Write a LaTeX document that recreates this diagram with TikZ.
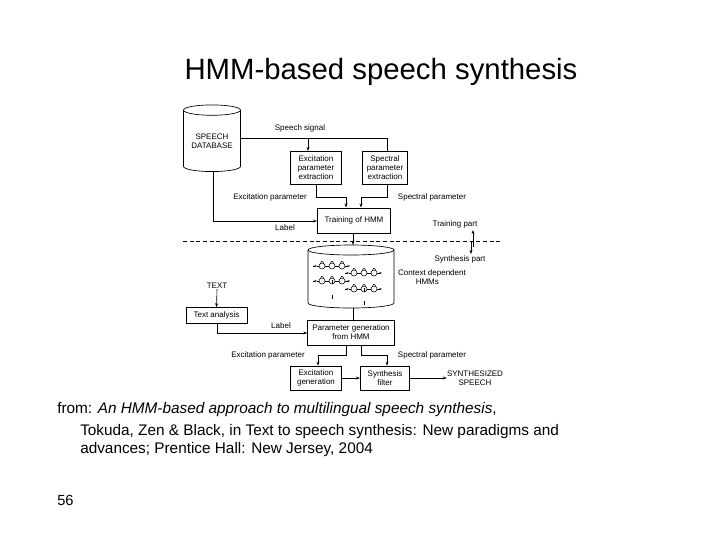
\documentclass[tikz,border=0pt]{standalone}
\usepackage{fontspec}
\setmainfont{Liberation Sans}
\usetikzlibrary{shapes.geometric,arrows.meta}
\begin{document}
\begin{tikzpicture}[x=0.75pt,y=-0.75pt,
  lbl/.style={font=\fontsize{6}{7}\selectfont,inner sep=0pt},
  bx/.style={draw,line width=0.5pt,font=\fontsize{6}{6.8}\selectfont,align=center,inner sep=0pt},
  cyl/.style={draw,line width=0.5pt,cylinder,shape border rotate=90,aspect=0.25,inner sep=0pt,font=\fontsize{6}{7}\selectfont,align=center},
  ln/.style={line width=0.45pt},
  ar/.style={line width=0.45pt,-{Stealth[length=3pt,width=2.2pt]}}]
\useasboundingbox (0,0) rectangle (720,540);
\node[inner sep=0pt,font=\fontsize{22}{26}\selectfont] (title) at (381,72) {HMM-based speech synthesis};
% training part
\node[cyl,minimum width=42.75pt,minimum height=50pt] (db) at (212,141) {SPEECH\\DATABASE};
\node[bx,minimum width=38pt,minimum height=25pt] (exc) at (316,168) {Excitation\\parameter\\extraction};
\node[bx,minimum width=34pt,minimum height=25pt] (spe) at (385,168) {Spectral\\parameter\\extraction};
\node[bx,minimum width=55pt,minimum height=19pt] (tr) at (354,220.5) {Training of HMM};
\node[lbl] (ss) at (300,128) {Speech signal};
\node[lbl] (ep1) at (270,197) {Excitation parameter};
\node[lbl] (sp1) at (432,197) {Spectral parameter};
\node[lbl] (lb1) at (285,228) {Label};
\node[lbl] (tp) at (455,224) {Training part};
\node[lbl] (sp) at (460,259) {Synthesis part};
\coordinate (s1) at (240,138);
\draw[ln] (s1) -- (387,138) -- (spe.north -| 387,0);
\draw[ar] (308,138) -- (exc.north -| 308,0);
\draw[ln] (exc.south -| 316,0) -- (316,197) -- (346,197);
\draw[ar] (346,197) -- (tr.north -| 346,0);
\draw[ln] (spe.south -| 387,0) -- (387,197) -- (361,197);
\draw[ar] (361,197) -- (tr.north -| 361,0);
\draw[ar] (db.south -| 213,0) -- (213,221) -- (tr.west |- 0,221);
\draw[ln,dash pattern=on 3pt off 2pt,line width=0.7pt] (183,241) -- (500,241);
\coordinate (tpa) at (473,247);
\draw[ar] (tpa) -- (473,230);
\coordinate (spa) at (471,241);
\draw[ar] (spa) -- (471,254);
% synthesis part
\coordinate (hmmtop) at (353,245);
\coordinate (hmmbot) at (353,308);
\draw[line width=0.5pt] (351,250) ellipse [x radius=32.25pt, y radius=3.75pt];
\draw[line width=0.5pt] (308,250) -- (308,303) arc [x radius=32.25pt, y radius=3.75pt, start angle=180, end angle=360] -- (394,250);
\draw[ar] (tr.south -| 353,0) -- (hmmtop);
\node[lbl,align=left] (cd) at (432,277) {Context dependent\\\hspace{2.2em}HMMs};
\foreach \y/\x in {266/313,281/313,273/345,289/345}{
  \draw[line width=0.35pt,-{Stealth[length=2pt,width=1.5pt]}] (\x,\y) -- (\x+4,\y);
  \foreach \i in {0,1,2}{
    \draw[line width=0.4pt] (\x+9+\i*10,\y) circle [radius=2.25pt];
    \draw[line width=0.35pt] (\x+7.5+\i*10,\y-2.5) arc [radius=1.3pt, start angle=200, end angle=-20];
  }
  \draw[line width=0.35pt] (\x+4,\y) -- (\x+6,\y) (\x+12,\y) -- (\x+16,\y) (\x+22,\y) -- (\x+26,\y);
  \draw[line width=0.35pt,-{Stealth[length=2pt,width=1.5pt]}] (\x+32,\y) -- (\x+37,\y);
}
\foreach \x/\y in {332/285,332/300,364/293,364/306}{\draw[line width=0.3pt,dashed] (\x,\y-1) -- (\x,\y-5);}
\node[lbl] (txt) at (217,286) {TEXT};
\node[bx,minimum width=46pt,minimum height=12pt] (ta) at (216.5,315.5) {Text analysis};
\draw[ar] (txt.south) -- (ta.north);
\node[bx,minimum width=65pt,minimum height=19pt] (pg) at (351,332.5) {Parameter generation\\from HMM};
\draw[ln] (hmmbot) -- (pg.north -| hmmbot);
\node[lbl] (lb2) at (281,326) {Label};
\draw[ar] (ta.south -| 217,0) -- (217,333) -- (pg.west |- 0,333);
\node[lbl] (ep2) at (268,355) {Excitation parameter};
\node[lbl] (sp2) at (432,355) {Spectral parameter};
\node[bx,minimum width=38pt,minimum height=18pt] (eg) at (316,378) {Excitation\\generation};
\node[bx,minimum width=37pt,minimum height=18pt] (sf) at (385,378) {Synthesis\\filter};
\node[lbl,align=center] (out) at (475,378) {SYNTHESIZED\\SPEECH};
\draw[ln] (pg.south -| 346,0) -- (346,355) -- (318,355);
\draw[ar] (318,355) -- (eg.north -| 318,0);
\draw[ln] (pg.south -| 361,0) -- (361,355) -- (387,355);
\draw[ar] (387,355) -- (sf.north -| 387,0);
\draw[ar] (eg.east) -- (sf.west);
\draw[ar] (sf.east) -- (out.west);
% caption
\node[anchor=west,inner sep=0pt,font=\fontsize{11.5}{14}\selectfont,align=left] (cap) at (57,410) {from: \textit{An HMM-based approach to multilingual speech synthesis},};
\node[anchor=north west,inner sep=0pt,font=\fontsize{11.5}{13.5}\selectfont,align=left] (cap2) at (80,424) {Tokuda, Zen \& Black, in Text to speech synthesis: New paradigms and\\advances; Prentice Hall: New Jersey, 2004};
\node[anchor=west,inner sep=0pt,font=\fontsize{11}{13}\selectfont] (pn) at (57,500) {56};
\end{tikzpicture}
\end{document}
